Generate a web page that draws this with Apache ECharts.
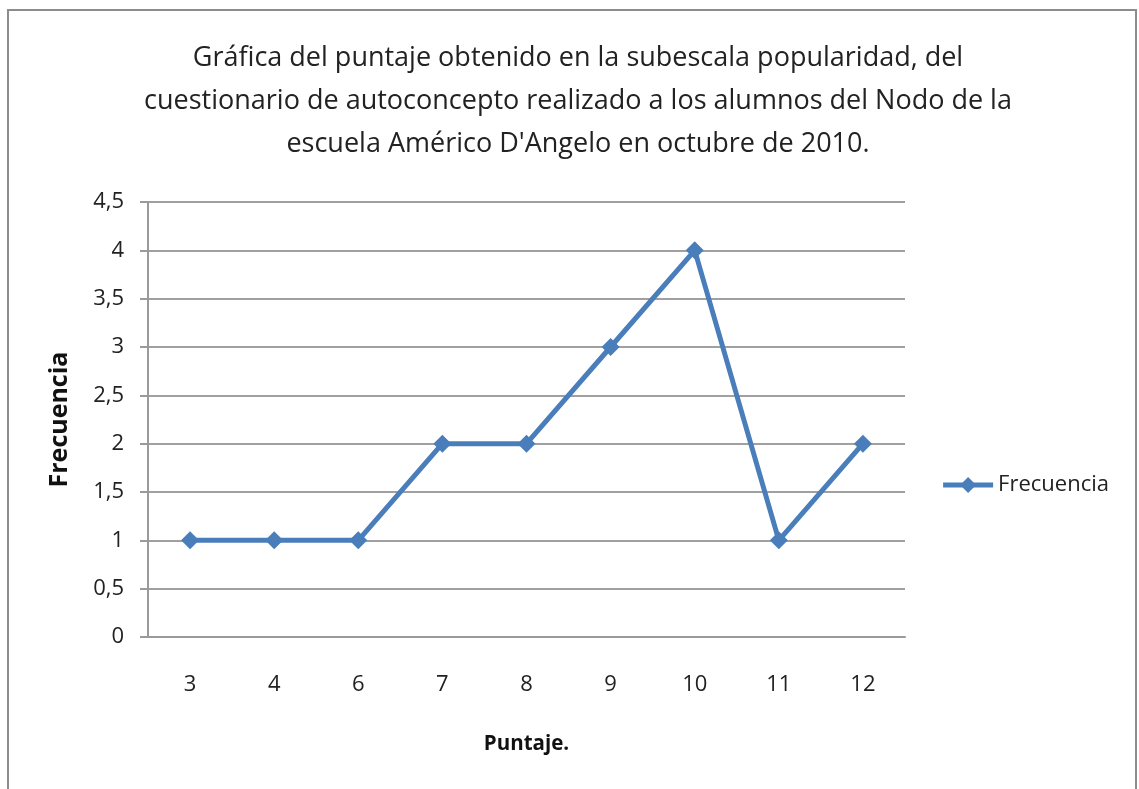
<!DOCTYPE html>
<html><head><meta charset="utf-8">
<script src="https://cdn.jsdelivr.net/npm/echarts@6/dist/echarts.min.js"></script>
<style>html,body{margin:0;padding:0;background:#fff}#c{width:1139px;height:789px}</style>
</head><body><div id="c"></div>
<script>
const titleLines = [
  "Gráfica del puntaje obtenido en la subescala popularidad, del",
  "cuestionario de autoconcepto realizado a los alumnos del Nodo de la",
  "escuela Américo D'Angelo en octubre de 2010."
];
const categories = ["3", "4", "6", "7", "8", "9", "10", "11", "12"];
const frecuencia = [1, 1, 1, 2, 2, 3, 4, 1, 2];
const seriesName = "Frecuencia";
const xName = "Puntaje.";
const yName = "Frecuencia";

const FONT = "'Open Sans', 'Noto Sans', sans-serif";
const chart = echarts.init(document.getElementById('c'), null, {renderer: 'canvas'});
chart.setOption({
  animation: false,
  backgroundColor: '#fff',
  textStyle: {fontFamily: FONT},
  graphic: [{
    type: 'rect', shape: {x: 8, y: 10, width: 1128, height: 800},
    style: {fill: 'none', stroke: '#8c8c8c', lineWidth: 2}, silent: true
  }],
  title: {
    text: titleLines.join('\n'), left: 573, top: 32, textAlign: 'center',
    textStyle: {fontFamily: FONT, fontSize: 27, fontWeight: 'normal', color: '#222', lineHeight: 43}
  },
  legend: {
    data: [seriesName], right: 25, top: 469, orient: 'vertical',
    itemWidth: 50, itemHeight: 20, itemGap: 4,
    lineStyle: {width: 5},
    textStyle: {fontFamily: FONT, fontSize: 22, color: '#222'}
  },
  grid: {left: 148, right: 234, top: 202, bottom: 152},
  xAxis: {
    type: 'category', data: categories, boundaryGap: true,
    name: xName, nameLocation: 'middle', nameGap: 97,
    nameTextStyle: {fontFamily: FONT, fontSize: 20.5, fontWeight: 'bold', color: '#111'},
    axisLine: {lineStyle: {color: '#9a9a9a', width: 2}},
    axisTick: {show: false},
    axisLabel: {fontFamily: FONT, fontSize: 22, color: '#222', margin: 37},
    splitLine: {show: false}
  },
  yAxis: {
    type: 'value', min: 0, max: 4.5, interval: 0.5,
    name: yName, nameLocation: 'middle', nameGap: 76, nameRotate: 90,
    nameTextStyle: {fontFamily: FONT, fontSize: 25, fontWeight: 'bold', color: '#111'},
    axisLine: {show: true, lineStyle: {color: '#9a9a9a', width: 2}},
    axisTick: {show: true, length: 8, lineStyle: {color: '#9a9a9a', width: 2}},
    axisLabel: {fontFamily: FONT, fontSize: 22, color: '#222', margin: 24,
      formatter: v => String(v).replace('.', ',')},
    splitLine: {show: true, lineStyle: {color: '#a0a0a0', width: 2}}
  },
  series: [{
    name: seriesName, type: 'line', data: frecuencia,
    symbol: 'diamond', symbolSize: 18,
    lineStyle: {color: '#4a7ebb', width: 5},
    itemStyle: {color: '#4a7ebb'}
  }]
});
</script></body></html>
